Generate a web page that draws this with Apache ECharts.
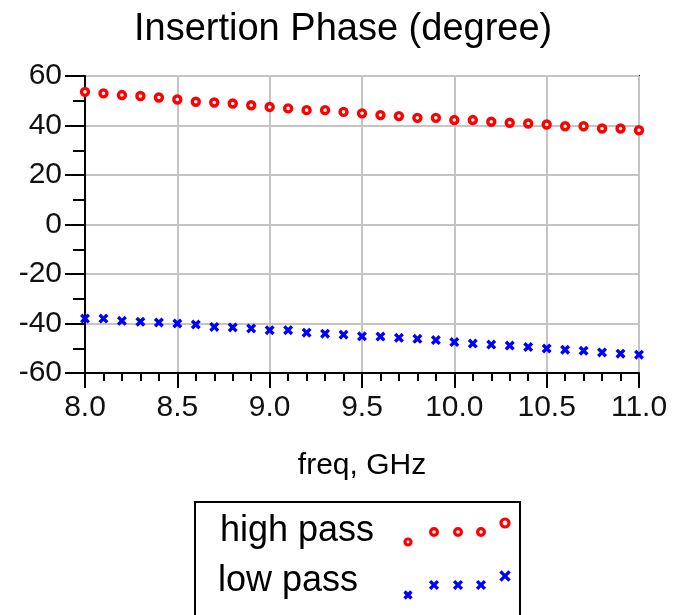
<!DOCTYPE html>
<html>
   <head>
       <meta charset="utf-8">
       <style>
           html, body { margin: 0; padding: 0; background: #fff; }
       </style>
   </head>
   <body>
       <div id="container" style="height: 615px;width: 674px;"></div>
   </body>
</html>
<script type="text/javascript" src="https://cdn.jsdelivr.net/npm/echarts@6/dist/echarts.min.js"></script>
<script type="text/javascript">
    // 频率 (GHz)
    const freq = [8.0, 8.1, 8.2, 8.3, 8.4, 8.5, 8.6, 8.7, 8.8, 8.9,
                  9.0, 9.1, 9.2, 9.3, 9.4, 9.5, 9.6, 9.7, 9.8, 9.9,
                  10.0, 10.1, 10.2, 10.3, 10.4, 10.5, 10.6, 10.7, 10.8, 10.9, 11.0];
    const highPass = [53.6, 53.0, 52.3, 51.9, 51.3, 50.5, 49.6, 49.3, 48.9, 48.2,
                      47.5, 46.9, 46.2, 46.2, 45.5, 44.9, 44.2, 43.8, 43.1, 43.1,
                      42.2, 42.2, 41.5, 41.1, 40.8, 40.4, 39.7, 39.7, 38.8, 38.8, 38.1];
    const lowPass = [-38.0, -38.0, -38.9, -39.3, -39.6, -40.0, -40.4, -41.4, -41.6, -42.0,
                     -42.7, -42.7, -43.7, -44.1, -44.5, -45.2, -45.3, -45.8, -46.2, -46.7,
                     -47.5, -48.1, -48.5, -48.9, -49.5, -50.1, -50.6, -51.0, -51.7, -52.2, -52.6];
    const seriesNames = ['high pass', 'low pass'];
    const xTicks = [8.0, 8.5, 9.0, 9.5, 10.0, 10.5, 11.0];
    const yTicks = [-60, -40, -20, 0, 20, 40, 60];

    insertionPhase();
    function insertionPhase() {
        const font = 'Liberation Sans, Arial, sans-serif';
        // 粗 X 标记
        const xMark = 'path://M0,2.4 L2.4,0 L5,2.6 L7.6,0 L10,2.4 L7.4,5 L10,7.6 L7.6,10 L5,7.4 L2.4,10 L0,7.6 L2.6,5 Z';
        const dom = document.getElementById("container");
        const myChart = echarts.init(dom);

        const toPairs = function (ys) {
            return freq.map(function (f, i) { return [f, ys[i]]; });
        };

        // 图例 (手工画，原图每行5个标记)
        const legendItems = [];
        const boxX = 195, boxY = 502;
        legendItems.push({
            type: 'rect', shape: {x: boxX, y: boxY, width: 325, height: 140},
            style: {fill: '#fff', stroke: '#000', lineWidth: 2}
        });
        const markX = [408, 434, 458, 481, 505];
        const redY = [542, 532, 532, 532, 523];
        const blueY = [595, 585, 585, 585, 576];
        const rSize = [3.0, 3.4, 3.4, 3.4, 4.0];
        legendItems.push({
            type: 'text', left: 220, top: 513,
            style: {text: seriesNames[0], font: '36px ' + font, fill: '#000'}
        });
        legendItems.push({
            type: 'text', left: 218, top: 563,
            style: {text: seriesNames[1], font: '36px ' + font, fill: '#000'}
        });
        markX.forEach(function (x, i) {
            legendItems.push({
                type: 'circle', shape: {cx: x, cy: redY[i], r: rSize[i]},
                style: {fill: '#fff', stroke: '#ff0000', lineWidth: 3.2}
            });
            const s = rSize[i] * 1.15;
            legendItems.push({
                type: 'polyline', shape: {points: [[x - s, blueY[i] - s], [x + s, blueY[i] + s]]},
                style: {stroke: '#0000ff', lineWidth: 3.4}
            });
            legendItems.push({
                type: 'polyline', shape: {points: [[x + s, blueY[i] - s], [x - s, blueY[i] + s]]},
                style: {stroke: '#0000ff', lineWidth: 3.4}
            });
        });

        const option = {
            animation: false,
            backgroundColor: '#fff',
            title: {
                text: 'Insertion Phase (degree)',
                left: 129,
                top: 6,
                textStyle: {fontFamily: font, fontSize: 38, fontWeight: 'normal', color: '#000'}
            },
            grid: {
                left: 85, right: 35, top: 76, bottom: 242,
                show: true, borderColor: '#222', borderWidth: 2,
                containLabel: false
            },
            xAxis: {
                type: 'value',
                min: xTicks[0], max: xTicks[xTicks.length - 1], interval: 0.5,
                name: 'freq, GHz',
                nameLocation: 'middle',
                nameGap: 78,
                nameTextStyle: {fontFamily: font, fontSize: 30, color: '#000'},
                axisLine: {show: true, onZero: false, lineStyle: {color: '#000', width: 2}},
                axisTick: {show: true, length: 15, lineStyle: {color: '#000', width: 2}},
                minorTick: {show: true, splitNumber: 5, length: 8, lineStyle: {color: '#000', width: 2}},
                axisLabel: {
                    fontFamily: font, fontSize: 30, color: '#111', margin: 20,
                    formatter: function (v) { return v.toFixed(1); }
                },
                splitLine: {show: true, lineStyle: {color: '#c4c4c4', width: 2}}
            },
            yAxis: {
                type: 'value',
                min: yTicks[0], max: yTicks[yTicks.length - 1], interval: 20,
                axisLine: {show: true, onZero: false, lineStyle: {color: '#000', width: 2}},
                axisTick: {show: true, length: 20, lineStyle: {color: '#000', width: 2}},
                minorTick: {show: true, splitNumber: 2, length: 12, lineStyle: {color: '#000', width: 2}},
                axisLabel: {fontFamily: font, fontSize: 30, color: '#111', margin: 23},
                splitLine: {show: true, lineStyle: {color: '#c4c4c4', width: 2}}
            },
            series: [
                {
                    name: seriesNames[0],
                    type: 'scatter',
                    symbol: 'circle',
                    symbolSize: 7,
                    itemStyle: {color: '#fff', borderColor: '#ff0000', borderWidth: 3.4, opacity: 1},
                    data: toPairs(highPass)
                },
                {
                    name: seriesNames[1],
                    type: 'scatter',
                    symbol: xMark,
                    symbolSize: 10,
                    itemStyle: {color: '#0000ff', opacity: 1},
                    data: toPairs(lowPass)
                }
            ],
            graphic: legendItems
        };
        myChart.setOption(option, true);
    }
</script>
